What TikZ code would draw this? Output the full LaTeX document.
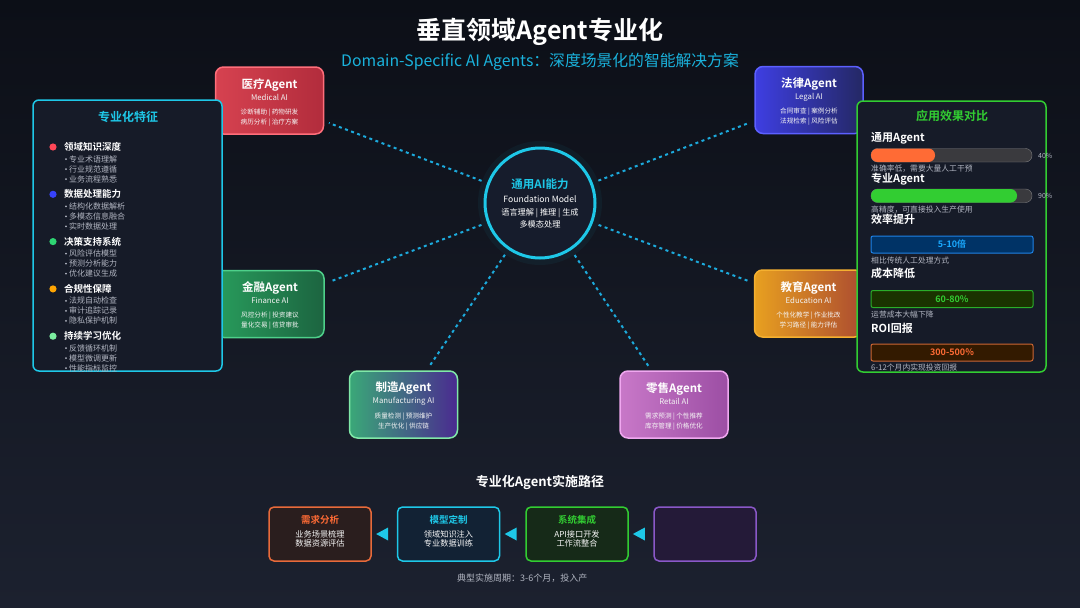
\documentclass[tikz,border=0pt]{standalone}
\usepackage{fontspec}
\setmainfont{Noto Sans CJK SC}[BoldFont={Noto Sans CJK SC Bold}]
\usetikzlibrary{shapes.geometric,calc}
\definecolor{bgtop}{RGB}{12,15,23}
\definecolor{bgbot}{RGB}{28,33,47}
\definecolor{panelbg}{RGB}{22,27,40}
\definecolor{cyanc}{RGB}{30,200,232}
\definecolor{subc}{RGB}{26,178,220}
\definecolor{linkc}{RGB}{28,170,220}
\definecolor{corebg}{RGB}{22,28,44}
\definecolor{greenc}{RGB}{50,205,50}
\definecolor{grayt}{RGB}{178,182,194}
\definecolor{medL}{RGB}{214,66,80}\definecolor{medR}{RGB}{178,44,60}\definecolor{medB}{RGB}{255,110,122}
\definecolor{lawL}{RGB}{62,62,226}\definecolor{lawR}{RGB}{36,40,100}\definecolor{lawB}{RGB}{92,96,255}
\definecolor{finL}{RGB}{40,156,92}\definecolor{finR}{RGB}{28,100,64}\definecolor{finB}{RGB}{78,208,138}
\definecolor{eduL}{RGB}{232,160,32}\definecolor{eduR}{RGB}{172,76,48}\definecolor{eduB}{RGB}{245,176,48}
\definecolor{mfgL}{RGB}{58,168,120}\definecolor{mfgR}{RGB}{74,42,144}\definecolor{mfgB}{RGB}{128,232,168}
\definecolor{retL}{RGB}{200,120,200}\definecolor{retR}{RGB}{156,78,164}\definecolor{retB}{RGB}{240,168,240}
\definecolor{dotA}{RGB}{255,71,87}
\definecolor{dotB}{RGB}{55,66,250}
\definecolor{dotC}{RGB}{46,213,115}
\definecolor{dotD}{RGB}{255,165,2}
\definecolor{dotE}{RGB}{123,237,159}
\definecolor{barO}{RGB}{255,107,53}
\definecolor{trackc}{RGB}{58,58,62}
\newcommand{\agentbox}[8]{% name, x, y, colour, title, sub, lines
  \node[agent, left color=#4L, right color=#4R, draw=#4B] (#1) at (#2,#3) {};
  \node[atitle] (#1t) at ($(#1.center)+(0,-16)$) {#5};
  \node[asub] (#1s) at ($(#1.center)+(0,-3)$) {#6};
  \node[aline] (#1a) at ($(#1.center)+(0,12)$) {#7};
  \node[aline] (#1b) at ($(#1.center)+(0,22)$) {#8};
}
\newcommand{\stepnode}[7]{% name, x, border, fill, title colour, title, lines
  \node[pathbox, draw=#3, fill=#4] (#1) at (#2,534) {};
  \node[ptitle, text=#5] (#1t) at ($(#1.center)+(0,-14)$) {#6};
  \node[pline, align=center] (#1l) at ($(#1.center)+(0,5)$) {#7};
}

\begin{document}
\begin{tikzpicture}[x=1pt,y=-1pt,
  agent/.style={rounded corners=8pt, line width=1.5pt, minimum width=108pt, minimum height=67pt, inner sep=0pt},
  atitle/.style={text=white, font=\fontsize{11.5}{13}\selectfont\bfseries, inner sep=0pt},
  asub/.style={text=white!90!gray, font=\fontsize{7.8}{9}\selectfont, inner sep=0pt},
  aline/.style={text=white!92!gray, font=\fontsize{6.6}{8}\selectfont, inner sep=0pt},
  link/.style={draw=linkc, line width=2pt, dash pattern=on 3pt off 3.5pt, shorten <=6pt, shorten >=5pt},
  panel/.style={fill=panelbg, line width=1.5pt, rounded corners=6pt},
  phead/.style={anchor=west, text=white, font=\fontsize{9.5}{11}\selectfont\bfseries, inner sep=0pt},
  pitem/.style={anchor=west, text=grayt, font=\fontsize{8}{10}\selectfont, inner sep=0pt},
  rhead/.style={anchor=west, text=white, font=\fontsize{11}{13}\selectfont\bfseries, inner sep=0pt},
  rnote/.style={anchor=west, text=grayt, font=\fontsize{7.8}{9}\selectfont, inner sep=0pt},
  metric/.style={minimum width=162pt, minimum height=17pt, rounded corners=2pt, line width=1pt, inner sep=0pt, font=\fontsize{9}{11}\selectfont\bfseries},
  pathbox/.style={minimum width=102pt, minimum height=54pt, rounded corners=5pt, line width=1.5pt, inner sep=0pt},
  ptitle/.style={font=\fontsize{9.5}{11}\selectfont\bfseries, inner sep=0pt},
  pline/.style={text=white!92!gray, font=\fontsize{8.2}{10}\selectfont, inner sep=0pt},
  arrowtri/.style={isosceles triangle, shape border rotate=180, fill=cyanc, inner sep=0pt, minimum height=12pt, minimum width=13pt, isosceles triangle stretches}]
\useasboundingbox (0,0) rectangle (1080,608);
\shade[top color=bgtop, bottom color=bgbot] (0,0) rectangle (1080,608);

% title
\node[text=white, font=\fontsize{25}{28}\selectfont\bfseries] (title) at (540,32) {垂直领域Agent专业化};
\node[text=subc, font=\fontsize{15.8}{18}\selectfont] (subtitle) at (540,62) {Domain-Specific AI Agents：深度场景化的智能解决方案};

% core model
\fill[cyanc, opacity=0.05] (540,203) circle (62);
\node[circle, minimum size=110pt, line width=3pt, draw=cyanc, fill=corebg] (core) at (540,203) {};
\node[text=cyanc, font=\fontsize{11.5}{13}\selectfont\bfseries, inner sep=0pt] (coret) at ($(core.center)+(0,-19)$) {通用AI能力};
\node[text=white, font=\fontsize{8.6}{10}\selectfont, inner sep=0pt] (cores) at ($(core.center)+(0,-4)$) {Foundation Model};
\node[text=white, font=\fontsize{8.2}{10}\selectfont, inner sep=0pt] (corea) at ($(core.center)+(0,10)$) {语言理解 | 推理 | 生成};
\node[text=white, font=\fontsize{8.2}{10}\selectfont, inner sep=0pt] (coreb) at ($(core.center)+(0,21)$) {多模态处理};

% agents
\agentbox{med}{269.5}{100.5}{med}{医疗Agent}{Medical AI}{诊断辅助 | 药物研发}{病历分析 | 治疗方案}
\agentbox{law}{809}{100}{law}{法律Agent}{Legal AI}{合同审查 | 案例分析}{法规检索 | 风险评估}
\agentbox{fin}{270}{304}{fin}{金融Agent}{Finance AI}{风控分析 | 投资建议}{量化交易 | 信贷审批}
\agentbox{edu}{808.5}{303.5}{edu}{教育Agent}{Education AI}{个性化教学 | 作业批改}{学习路径 | 能力评估}
\agentbox{mfg}{403.5}{404.5}{mfg}{制造Agent}{Manufacturing AI}{质量检测 | 预测维护}{生产优化 | 供应链}
\agentbox{ret}{674}{404.5}{ret}{零售Agent}{Retail AI}{需求预测 | 个性推荐}{库存管理 | 价格优化}

\draw[link] (core) -- (med);
\draw[link] (core) -- (law);
\draw[link] (core) -- (fin);
\draw[link] (core) -- (edu);
\draw[link] (core) -- (mfg);
\draw[link] (core) -- (ret);

% left panel
\draw[panel, draw=cyanc] (33,100) rectangle (222,371);
\node[text=cyanc, font=\fontsize{12}{14}\selectfont\bfseries] (ltitle) at (128,117) {专业化特征};
\foreach \c/\h/\a/\b/\d [count=\i] in {dotA/领域知识深度/专业术语理解/行业规范遵循/业务流程熟悉,
    dotB/数据处理能力/结构化数据解析/多模态信息融合/实时数据处理,
    dotC/决策支持系统/风险评估模型/预测分析能力/优化建议生成,
    dotD/合规性保障/法规自动检查/审计追踪记录/隐私保护机制,
    dotE/持续学习优化/反馈循环机制/模型微调更新/性能指标监控}{
  \fill[\c] (53,{147+(\i-1)*47.3}) circle (3.6);
  \node[phead] (h\i) at (64,{147+(\i-1)*47.3}) {\h};
  \foreach \y in {159,169,179}
    \fill[grayt] (66,{\y+(\i-1)*47.3}) circle (1);
  \node[pitem] (h\i-1) at (69,{159+(\i-1)*47.3}) {\a};
  \node[pitem] (h\i-2) at (69,{169+(\i-1)*47.3}) {\b};
  \node[pitem] (h\i-3) at (69,{179+(\i-1)*47.3}) {\d};
}

% right panel
\draw[panel, draw=greenc] (857,101) rectangle (1046,372);
\node[text=greenc, font=\fontsize{12}{14}\selectfont\bfseries] (rtitle) at (952,116) {应用效果对比};
\node[rhead] (r1) at (871,138) {通用Agent};
\draw[fill=trackc, draw=white!35!trackc, rounded corners=6.5pt] (871,148.5) rectangle (1032,162);
\fill[barO, rounded corners=6.5pt] (871,148.5) rectangle (935,162);
\node[anchor=west, text=grayt, font=\fontsize{7}{8}\selectfont, inner sep=0pt] (p1) at (1038,156) {40\%};
\node[rnote] (n1) at (871,169) {准确率低，需要大量人工干预};
\node[rhead] (r2) at (871,179) {专业Agent};
\draw[fill=trackc, draw=white!35!trackc, rounded corners=6.5pt] (871,189) rectangle (1032,202.5);
\fill[greenc, rounded corners=6.5pt] (871,189) rectangle (1017,202.5);
\node[anchor=west, text=grayt, font=\fontsize{7}{8}\selectfont, inner sep=0pt] (p2) at (1038,196) {90\%};
\node[rnote] (n2) at (871,209.5) {高精度，可直接投入生产使用};
\node[rhead] (r3) at (871,219) {效率提升};
\node[metric, draw={rgb,255:red,30;green,130;blue,230}, fill={rgb,255:red,0;green,51;blue,102}, text={rgb,255:red,26;green,170;blue,255}] (m1) at (952,244.5) {5-10倍};
\node[rnote] (n3) at (871,261) {相比传统人工处理方式};
\node[rhead] (r4) at (871,273) {成本降低};
\node[metric, draw=greenc!85!black, fill={rgb,255:red,26;green,51;blue,0}, text=greenc] (m2) at (952,299) {60-80\%};
\node[rnote] (n4) at (871,314.5) {运营成本大幅下降};
\node[rhead] (r5) at (871,328) {ROI回报};
\node[metric, draw={rgb,255:red,204;green,102;blue,51}, fill={rgb,255:red,51;green,26;blue,0}, text=barO] (m3) at (952,352.5) {300-500\%};
\node[rnote] (n5) at (871,368) {6-12个月内实现投资回报};

% implementation path
\node[text=white, font=\fontsize{13}{15}\selectfont\bfseries] (ptitle) at (540,482) {专业化Agent实施路径};
\stepnode{s1}{320}{{rgb,255:red,232;green,106;blue,58}}{{rgb,255:red,42;green,30;blue,30}}{barO}{需求分析}{业务场景梳理\\[-1pt]数据资源评估}
\stepnode{s2}{448.5}{cyanc}{{rgb,255:red,18;green,34;blue,52}}{cyanc}{模型定制}{领域知识注入\\[-1pt]专业数据训练}
\stepnode{s3}{577}{greenc}{{rgb,255:red,22;green,42;blue,24}}{greenc}{系统集成}{API接口开发\\[-1pt]工作流整合}
\node[pathbox, draw={rgb,255:red,138;green,88;blue,200}, fill={rgb,255:red,36;green,26;blue,56}] (s4) at (705,534) {};
\node[arrowtri] (a1) at ($(s1.east)!0.5!(s2.west)$) {};
\node[arrowtri] (a2) at ($(s2.east)!0.5!(s3.west)$) {};
\node[arrowtri] (a3) at ($(s3.east)!0.5!(s4.west)$) {};
\node[anchor=west, text=grayt, font=\fontsize{9}{11}\selectfont, inner sep=0pt] (note) at (457,578) {典型实施周期：3-6个月，投入产};
\end{tikzpicture}
\end{document}
